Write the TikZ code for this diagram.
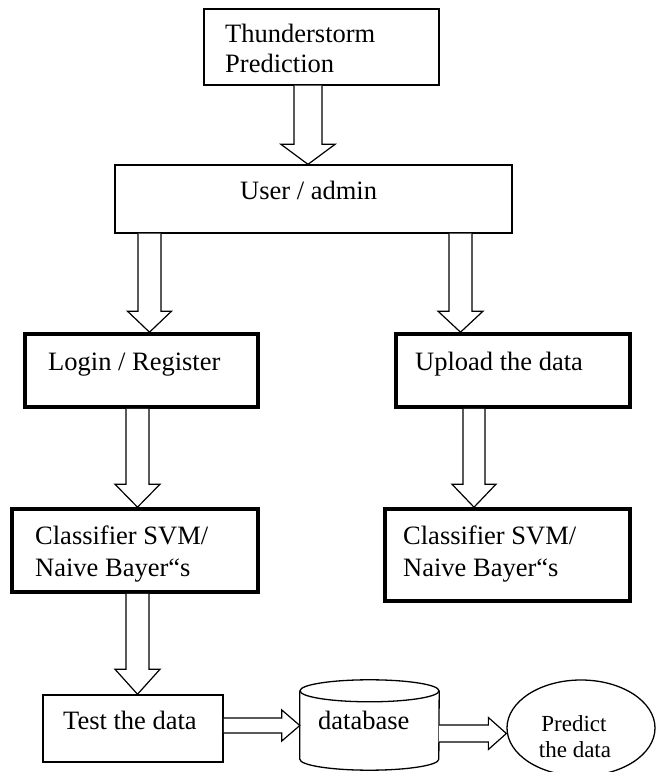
\documentclass[tikz,border=0pt]{standalone}
\usepackage{fontspec}
\setmainfont{Liberation Serif}
\usetikzlibrary{calc,shapes.geometric}
\newcommand\vblock[6]{\draw[blk] let \p1=(#1.south),\p2=(#2.north) in (#3-#4,\y1) -- (#3-#4,\y2+#6) -- (#3-#5,\y2+#6) -- (#3,\y2) -- (#3+#5,\y2+#6) -- (#3+#4,\y2+#6) -- (#3+#4,\y1);}
\newcommand\hblock[6]{\draw[blk] let \p1=(#1.east),\p2=(#2.west) in (\x1,#3-#4) -- (\x2-#6,#3-#4) -- (\x2-#6,#3-#5) -- (\x2,#3) -- (\x2-#6,#3+#5) -- (\x2-#6,#3+#4) -- (\x1,#3+#4);}
\begin{document}
\begin{tikzpicture}[x=1pt,y=1pt,
  box/.style={draw=black,line width=1.3pt,inner sep=0pt,rectangle},
  boldbox/.style={draw=black,line width=3.6pt,inner sep=0pt,rectangle},
  txt/.style={anchor=base west,inner sep=0pt,font=\fontsize{26.5}{30}\selectfont},
  smalltxt/.style={anchor=base,inner sep=0pt,font=\fontsize{23}{26}\selectfont},
  blk/.style={draw=black,line width=1.2pt,fill=white,line join=miter},
  outline/.style={draw=black,line width=1.3pt}]
\useasboundingbox (0,0) rectangle (661,772);
% boxes
\node[box,minimum width=235pt,minimum height=76pt] (top) at (321.5,725) {};
\node[box,minimum width=397pt,minimum height=68pt] (user) at (313.5,573) {};
\node[boldbox,minimum width=233pt,minimum height=73pt] (login) at (141.5,401.5) {};
\node[boldbox,minimum width=234pt,minimum height=73pt] (upload) at (513,401.5) {};
\node[boldbox,minimum width=246pt,minimum height=83pt] (cl) at (135,221.5) {};
\node[boldbox,minimum width=245pt,minimum height=92pt] (cr) at (507.5,217) {};
\node[box,line width=1.5pt,minimum width=180pt,minimum height=67pt] (test) at (133,43.5) {};
\node[inner sep=0pt,minimum width=139pt,minimum height=90pt] (db) at (369.5,47) {};
\node[ellipse,outline,inner sep=0pt,minimum width=148pt,minimum height=96pt] (pred) at (581,44) {};
% cylinder
\draw[outline] ($(db.north)+(0,-11)$) ellipse [x radius=69.5, y radius=11];
\draw[outline] ($(db.north west)+(0,-11)$) -- ($(db.south west)+(0,11)$)
   arc[start angle=180,end angle=360,x radius=69.5,y radius=11]
   -- ($(db.north east)+(0,-11)$);
% texts
\node[txt] (t1a) at (225,729) {Thunderstorm};
\node[txt] (t1b) at (225,699) {Prediction};
\node[txt] (t2) at (240,572) {User / admin};
\node[txt] (t3) at (48,401) {Login / Register};
\node[txt] (t4) at (415,401) {Upload the data};
\node[txt] (t5a) at (35,227) {Classifier SVM/};
\node[txt] (t5b) at (35,195) {Naive Bayer“s};
\node[txt] (t6a) at (403,227) {Classifier SVM/};
\node[txt] (t6b) at (403,195) {Naive Bayer“s};
\node[txt] (t7) at (63,42) {Test the data};
\node[txt] (t8) at (318,42) {database};
\node[smalltxt] (t9a) at (574,41) {Predict};
\node[smalltxt] (t9b) at (575,15) {the data};
% block arrows
\vblock{top}{user}{308}{14}{27}{20}
\vblock{user}{login}{149.5}{11.5}{22}{21}
\vblock{user}{upload}{460.5}{11.5}{22.5}{21}
\vblock{login}{cl}{137.5}{11.5}{22.5}{23}
\vblock{upload}{cr}{474}{11}{22}{23}
\vblock{cl}{test}{137.5}{11.5}{22.5}{25}
\hblock{test}{db}{46.5}{7.5}{15.5}{18}
\hblock{db}{pred}{38.5}{8.5}{16}{18}
\end{tikzpicture}
\end{document}
